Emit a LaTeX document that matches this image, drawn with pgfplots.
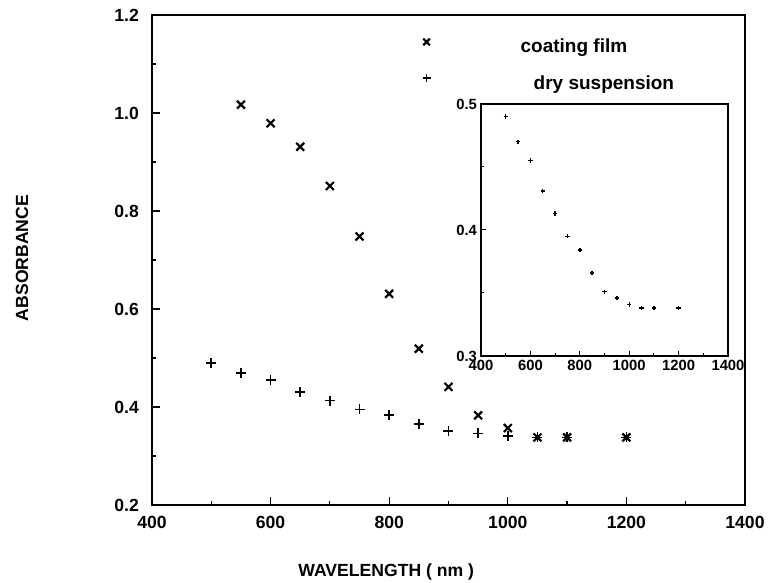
\documentclass[border=0pt]{standalone}
\usepackage{fontspec}
\setmainfont{Liberation Sans}
\usepackage{pgfplots}
\pgfplotsset{compat=1.18}

% dry suspension (+)
\pgfplotstableread{
lam   A
500   0.490
550   0.470
600   0.455
650   0.431
700   0.413
750   0.395
800   0.384
850   0.366
900   0.351
950   0.346
1000  0.341
1050  0.338
1100  0.338
1200  0.338
}\drysusp
% coating film (x)
\pgfplotstableread{
lam   A
550   1.017
600   0.979
650   0.931
700   0.851
750   0.748
800   0.631
850   0.519
900   0.441
950   0.383
1000  0.357
1050  0.338
1100  0.338
1200  0.338
}\coating

\begin{document}
\begin{tikzpicture}
\useasboundingbox (-76pt,-39pt) rectangle (310.5pt,252.5pt);
\begin{axis}[
    scale only axis,
    at={(0pt,0pt)}, anchor=south west,
    width=296.5pt, height=245pt,
    xmin=400, xmax=1400, ymin=0.2, ymax=1.2,
    xtick={400,600,800,1000,1200,1400},
    minor xtick={500,700,900,1100,1300},
    ytick={0.2,0.4,0.6,0.8,1.0,1.2},
    minor ytick={0.3,0.5,0.7,0.9,1.1},
    tick pos=left, tick align=inside,
    major tick length=4pt, minor tick length=1.8pt,
    every tick/.style={black, line width=0.6pt},
    axis line style={line width=1pt},
    /pgf/number format/assume math mode=true,
    /pgf/number format/1000 sep={},
    tick label style={font=\bfseries\fontsize{8.8}{10}\selectfont},
    yticklabel style={/pgf/number format/fixed, /pgf/number format/fixed zerofill, /pgf/number format/precision=1, xshift=-3pt},
    xticklabel style={yshift=-2pt},
    xlabel={WAVELENGTH ( nm )},
    ylabel={ABSORBANCE},
    label style={font=\bfseries\fontsize{8.8}{10}\selectfont},
    xlabel style={at={(axis description cs:0.395,-0.137)}, anchor=center},
    ylabel style={at={(axis description cs:-0.219,0.504)}, anchor=center},
  ]
  \addplot[only marks, mark=x, mark size=2.8pt, line width=1.1pt] table[x=lam,y=A] {\coating};
  \addplot[only marks, mark=+, mark size=2.5pt, line width=0.85pt] table[x=lam,y=A] {\drysusp};
  % legend markers
  \addplot[only marks, mark=x, mark size=2.3pt, line width=1.1pt, forget plot] coordinates {(863,1.145)};
  \addplot[only marks, mark=+, mark size=2.0pt, line width=0.85pt, forget plot] coordinates {(863,1.071)};
  \node[anchor=west, inner sep=0pt, font=\bfseries\fontsize{9.5}{11}\selectfont] at (axis cs:1021,1.133) {coating film};
  \node[anchor=west, inner sep=0pt, font=\bfseries\fontsize{9.5}{11}\selectfont] at (axis cs:1043,1.057) {dry suspension};
\end{axis}
\begin{axis}[
    scale only axis,
    at={(164.5pt,74.5pt)}, anchor=south west,
    width=123.5pt, height=126pt,
    xmin=400, xmax=1400, ymin=0.3, ymax=0.5,
    xtick={400,600,800,1000,1200,1400},
    minor xtick={500,700,900,1100,1300},
    ytick={0.3,0.4,0.5},
    minor ytick={0.35,0.45},
    tick pos=left, tick align=inside,
    major tick length=2.5pt, minor tick length=1.5pt,
    every tick/.style={black, line width=0.5pt},
    axis line style={line width=0.7pt},
    /pgf/number format/assume math mode=true,
    /pgf/number format/1000 sep={},
    tick label style={font=\bfseries\fontsize{7.4}{8}\selectfont},
    yticklabel style={/pgf/number format/fixed, /pgf/number format/fixed zerofill, /pgf/number format/precision=1, xshift=1.5pt},
    xticklabel style={yshift=1.5pt},
  ]
  \addplot[only marks, mark=+, mark size=1.1pt, line width=0.7pt] table[x=lam,y=A] {\drysusp};
\end{axis}
\end{tikzpicture}
\end{document}
